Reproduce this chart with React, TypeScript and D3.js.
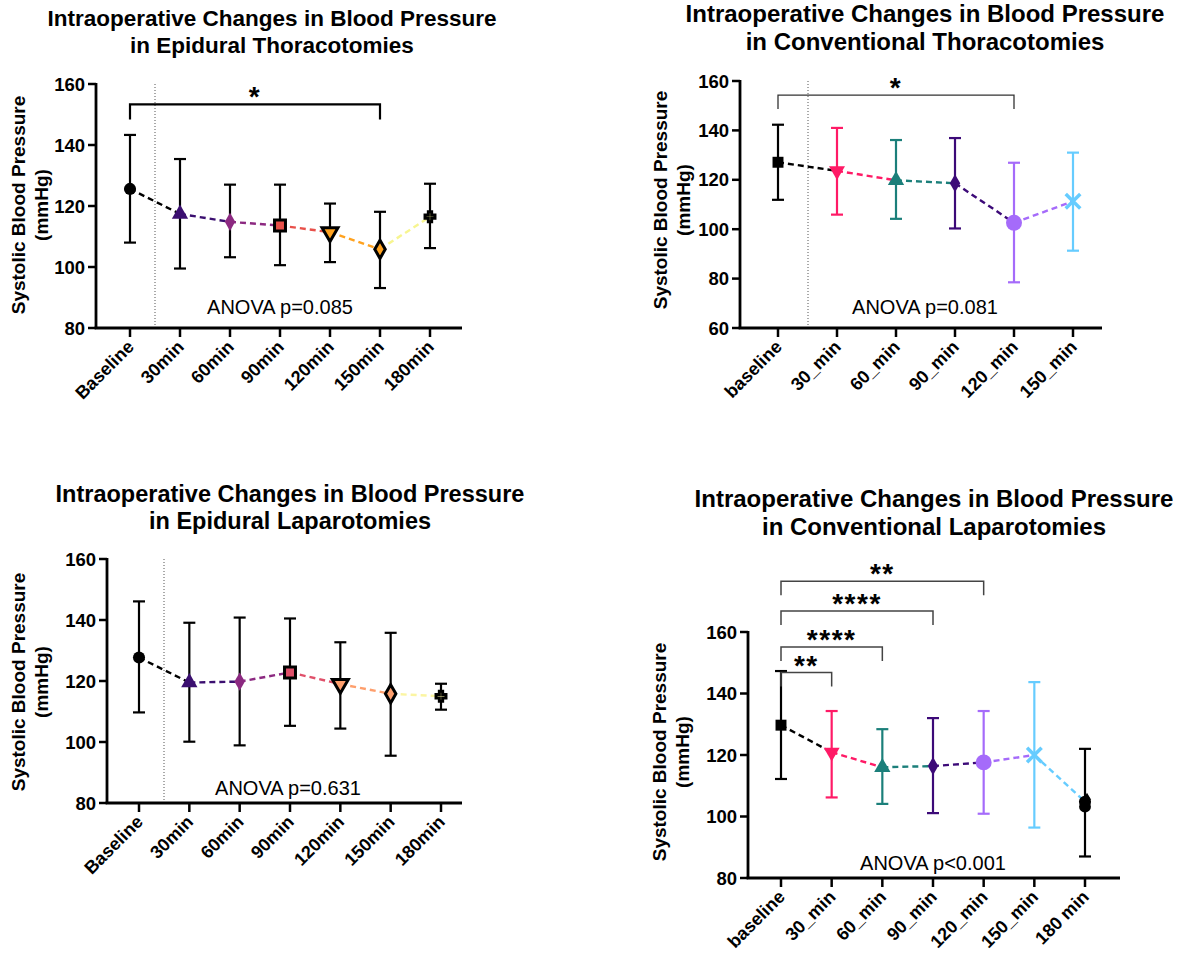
import React from "react";
import * as d3 from "d3";

// ---------- DATA ----------
const p1Categories = ["Baseline", "30min", "60min", "90min", "120min", "150min", "180min"];
const p1Mean = [125.6, 117.4, 114.8, 113.6, 111.4, 105.8, 116.5];
const p1Upper = [143.3, 135.4, 127.0, 127.0, 120.8, 118.1, 127.3];
const p1Lower = [108.0, 99.5, 103.2, 100.6, 101.6, 93.1, 106.2];

const p2Categories = ["baseline", "30_min", "60_min", "90_min", "120_min", "150_min"];
const p2Mean = [127.1, 123.6, 119.8, 118.6, 102.6, 111.3];
const p2Upper = [142.3, 141.0, 136.1, 136.9, 126.9, 131.0];
const p2Lower = [111.9, 105.9, 104.2, 100.3, 78.5, 91.3];

const p3Categories = ["Baseline", "30min", "60min", "90min", "120min", "150min", "180min"];
const p3Mean = [127.7, 119.5, 119.8, 122.8, 119.0, 115.8, 115.0];
const p3Upper = [146.1, 139.1, 140.8, 140.5, 132.7, 135.8, 119.1];
const p3Lower = [109.7, 100.1, 98.9, 105.3, 104.4, 95.5, 110.6];

const p4Categories = ["baseline", "30_min", "60_min", "90_min", "120_min", "150_min", "180 min"];
const p4Mean = [129.7, 120.9, 116.0, 116.4, 117.6, 120.0, 104.8];
const p4Upper = [147.3, 134.3, 128.4, 132.0, 134.3, 143.7, 122.0];
const p4Lower = [112.2, 106.2, 104.1, 101.1, 100.9, 96.4, 87.0];
const p4ExtraCircle = 103.2;
const p4ExtraTriangle = 106.2;

const yTicksA = [80, 100, 120, 140, 160];
const yTicksB = [60, 80, 100, 120, 140, 160];

// markers and colours
const p1Markers = ["circle", "triangle", "diamond", "square", "triangleDown", "diamond", "cross"];
const p1Fill = ["#000000", "#3b0f70", "#8c2981", "#e8504a", "#ffa21f", "#ffa21f", "#f7f590"];
const p1Seg = ["#000000", "#3b0f70", "#8c2981", "#e8504a", "#ffa21f", "#f7f590"];
const p1Outline = [false, false, false, true, true, true, true];

const p3Markers = ["circle", "triangle", "diamond", "square", "triangleDown", "diamond", "cross"];
const p3Fill = ["#000000", "#3b0f70", "#8c2981", "#e0506a", "#fe9f6d", "#fe9f6d", "#fbf5a3"];
const p3Seg = ["#000000", "#3b0f70", "#8c2981", "#e0506a", "#fe9f6d", "#fbf5a3"];
const p3Outline = [false, false, false, true, true, true, true];

const p2Markers = ["square", "triangleDown", "triangle", "diamond", "bigcircle", "x"];
const p2Fill = ["#000000", "#ff1a66", "#1b7f7a", "#3c0a78", "#a56bfa", "#66ccff"];
const p2Seg = ["#000000", "#ff1a66", "#1b7f7a", "#3c0a78", "#a56bfa"];

const p4Markers = ["square", "triangleDown", "triangle", "diamond", "bigcircle", "x", "circle"];
const p4Fill = ["#000000", "#ff1a66", "#1b7f7a", "#3c0a78", "#a56bfa", "#66ccff", "#000000"];
const p4Seg = ["#000000", "#ff1a66", "#1b7f7a", "#3c0a78", "#a56bfa", "#66ccff"];

const p1Brackets = [{ a: 0, b: 5, level: 153.3, label: "*" }];
const p2Brackets = [{ a: 0, b: 4, level: 154.3, label: "*" }];
const p4Brackets = [
  { a: 0, b: 1, level: 146.8, label: "**" },
  { a: 0, b: 2, level: 155.1, label: "****" },
  { a: 0, b: 3, level: 166.8, label: "****" },
  { a: 0, b: 4, level: 176.5, label: "**" },
];

const FONT = "'Liberation Sans', Arial, Helvetica, sans-serif";

type Bracket = { a: number; b: number; level: number; label: string };
type Cfg = {
  cats: string[]; mean: number[]; upper: number[]; lower: number[];
  markers: string[]; fill: string[]; seg: string[]; outline: boolean[]; errColor: string[];
  yMin: number; yTicks: number[];
  axisX: number; bottom: number; top: number; xFirst: number; xLast: number; xEnd: number; divX: number | null;
  title: string[]; titleX: number; titleY: number[]; titleSize: number;
  ylabX: number[]; ylabY: number;
  anova: string; anovaX: number; anovaY: number;
  brackets: Bracket[]; bColor: string; bWidth: number; bDrop: number;
};

function symPath(kind: string): string {
  const g = d3.symbol();
  switch (kind) {
    case "circle": return g.type(d3.symbolCircle).size(115)()!;
    case "bigcircle": return g.type(d3.symbolCircle).size(200)()!;
    case "triangle": return g.type(d3.symbolTriangle).size(115)()!;
    case "triangleDown": return g.type(d3.symbolTriangle).size(110)()!;
    case "diamond": return g.type(d3.symbolDiamond).size(95)()!;
    case "square": return g.type(d3.symbolSquare).size(120)()!;
    case "cross": return g.type(d3.symbolCross).size(55)()!;
    case "x": return g.type(d3.symbolX).size(140)()!;
  }
  return g.type(d3.symbolCircle).size(100)()!;
}

function Panel({ c }: { c: Cfg }) {
  const x = d3.scalePoint<string>().domain(c.cats).range([c.xFirst, c.xLast]);
  const y = d3.scaleLinear().domain([c.yMin, 160]).range([c.bottom, c.top]);
  const cap = 6;
  return (
    <g fontFamily={FONT}>
      {c.title.map((t, i) => (
        <text key={i} x={c.titleX} y={c.titleY[i]} textAnchor="middle" fontWeight="bold" fontSize={c.titleSize} fill="#000">{t}</text>
      ))}
      <text transform={`translate(${c.ylabX[0]},${c.ylabY}) rotate(-90)`} textAnchor="middle" fontWeight="bold" fontSize={19}>Systolic Blood Pressure</text>
      <text transform={`translate(${c.ylabX[1]},${c.ylabY}) rotate(-90)`} textAnchor="middle" fontWeight="bold" fontSize={19}>(mmHg)</text>
      {c.divX !== null && (
        <line x1={c.divX} x2={c.divX} y1={c.top} y2={c.bottom} stroke="#555" strokeWidth={1} strokeDasharray="1,2" />
      )}
      <line x1={c.axisX} x2={c.axisX} y1={c.top - 1} y2={c.bottom} stroke="#000" strokeWidth={2.8} />
      <line x1={c.axisX - 1.4} x2={c.xEnd} y1={c.bottom} y2={c.bottom} stroke="#000" strokeWidth={2.8} />
      {c.yTicks.map((t) => (
        <g key={t}>
          <line x1={c.axisX - 8} x2={c.axisX} y1={y(t)} y2={y(t)} stroke="#000" strokeWidth={2.5} />
          <text x={c.axisX - 11} y={y(t)} dy="0.36em" textAnchor="end" fontWeight="bold" fontSize={18.5}>{t}</text>
        </g>
      ))}
      {c.cats.map((k) => (
        <g key={k}>
          <line x1={x(k)} x2={x(k)} y1={c.bottom} y2={c.bottom + 9} stroke="#000" strokeWidth={2.5} />
          <text transform={`translate(${x(k)! + 5},${c.bottom + 20}) rotate(-45)`} textAnchor="end" fontWeight="bold" fontSize={18}>{k}</text>
        </g>
      ))}
      {c.cats.map((k, i) => {
        const xx = x(k)!;
        return (
          <g key={"e" + k} stroke={c.errColor[i]} strokeWidth={2.2}>
            <line x1={xx} x2={xx} y1={y(c.upper[i])} y2={y(c.lower[i])} />
            <line x1={xx - cap} x2={xx + cap} y1={y(c.upper[i])} y2={y(c.upper[i])} />
            <line x1={xx - cap} x2={xx + cap} y1={y(c.lower[i])} y2={y(c.lower[i])} />
          </g>
        );
      })}
      {c.seg.map((col, i) => (
        <line key={"s" + i} x1={x(c.cats[i])} x2={x(c.cats[i + 1])} y1={y(c.mean[i])} y2={y(c.mean[i + 1])}
          stroke={col} strokeWidth={2.4} strokeDasharray="6,4" />
      ))}
      {c.cats.map((k, i) => {
        const kind = c.markers[i];
        const rot = kind === "triangleDown" ? 180 : 0;
        const isX = kind === "x";
        return (
          <path key={"m" + k} d={symPath(kind)} transform={`translate(${x(k)},${y(c.mean[i])}) rotate(${rot})`}
            fill={isX ? "none" : c.fill[i]} stroke={isX ? c.fill[i] : c.outline[i] ? "#000" : "none"}
            strokeWidth={isX ? 3.5 : 3} />
        );
      })}
      {c.brackets.map((b, i) => {
        const xa = x(c.cats[b.a])!, xb = x(c.cats[b.b])!, yy = y(b.level);
        return (
          <g key={"b" + i}>
            <path d={`M${xa},${yy + c.bDrop}V${yy}H${xb}V${yy + c.bDrop}`} fill="none" stroke={c.bColor} strokeWidth={c.bWidth} />
            <text x={(xa + xb) / 2} y={yy + 2} textAnchor="middle" fontWeight="bold" fontSize={28} letterSpacing={1.5}>{b.label}</text>
          </g>
        );
      })}
      <text x={c.anovaX} y={c.anovaY} dy="0.35em" textAnchor="middle" fontSize={20}>{c.anova}</text>
    </g>
  );
}

const black = (n: number) => Array(n).fill("#000000");

const panels: Cfg[] = [
  {
    cats: p1Categories, mean: p1Mean, upper: p1Upper, lower: p1Lower,
    markers: p1Markers, fill: p1Fill, seg: p1Seg, outline: p1Outline, errColor: black(7),
    yMin: 80, yTicks: yTicksA, axisX: 96, bottom: 328, top: 84, xFirst: 130, xLast: 430, xEnd: 462, divX: 155,
    title: ["Intraoperative Changes in Blood Pressure", "in Epidural Thoracotomies"], titleX: 272, titleY: [26, 53], titleSize: 22.5,
    ylabX: [25, 48], ylabY: 205, anova: "ANOVA p=0.085", anovaX: 280, anovaY: 307,
    brackets: p1Brackets, bColor: "#000", bWidth: 2.2, bDrop: 15,
  },
  {
    cats: p2Categories, mean: p2Mean, upper: p2Upper, lower: p2Lower,
    markers: p2Markers, fill: p2Fill, seg: p2Seg, outline: Array(6).fill(false), errColor: p2Fill,
    yMin: 60, yTicks: yTicksB, axisX: 740, bottom: 328, top: 81, xFirst: 778, xLast: 1073, xEnd: 1102, divX: 808,
    title: ["Intraoperative Changes in Blood Pressure", "in Conventional Thoracotomies"], titleX: 925, titleY: [22, 50], titleSize: 24,
    ylabX: [667, 690], ylabY: 200, anova: "ANOVA p=0.081", anovaX: 925, anovaY: 307,
    brackets: p2Brackets, bColor: "#333", bWidth: 1.3, bDrop: 14,
  },
  {
    cats: p3Categories, mean: p3Mean, upper: p3Upper, lower: p3Lower,
    markers: p3Markers, fill: p3Fill, seg: p3Seg, outline: p3Outline, errColor: black(7),
    yMin: 80, yTicks: yTicksA, axisX: 107, bottom: 803, top: 559, xFirst: 139, xLast: 441, xEnd: 462, divX: 164,
    title: ["Intraoperative Changes in Blood Pressure", "in Epidural Laparotomies"], titleX: 290, titleY: [502, 529], titleSize: 23.5,
    ylabX: [25, 48], ylabY: 682, anova: "ANOVA p=0.631", anovaX: 288, anovaY: 788,
    brackets: [], bColor: "#000", bWidth: 2, bDrop: 14,
  },
  {
    cats: p4Categories, mean: p4Mean, upper: p4Upper, lower: p4Lower,
    markers: p4Markers, fill: p4Fill, seg: p4Seg, outline: Array(7).fill(false), errColor: p4Fill,
    yMin: 80, yTicks: yTicksA, axisX: 748, bottom: 878, top: 632, xFirst: 781, xLast: 1085, xEnd: 1120, divX: null,
    title: ["Intraoperative Changes in Blood Pressure", "in Conventional Laparotomies"], titleX: 934, titleY: [507, 535], titleSize: 24,
    ylabX: [666, 689], ylabY: 752, anova: "ANOVA p<0.001", anovaX: 933, anovaY: 863,
    brackets: p4Brackets, bColor: "#444", bWidth: 1.5, bDrop: 14,
  },
];

export default function App() {
  const p4 = panels[3];
  const x4 = d3.scalePoint<string>().domain(p4.cats).range([p4.xFirst, p4.xLast]);
  const y4 = d3.scaleLinear().domain([80, 160]).range([p4.bottom, p4.top]);
  const lastX = x4(p4.cats[6])!;
  return (
    <svg width={1183} height={962} style={{ position: "absolute", left: 0, top: 0, background: "#fff" }}>
      <rect width={1183} height={962} fill="#fff" />
      {panels.map((c, i) => <Panel key={i} c={c} />)}
      <path d={d3.symbol().type(d3.symbolCircle).size(110)()!} transform={`translate(${lastX},${y4(p4ExtraCircle)})`} fill="#000" />
      <path d={d3.symbol().type(d3.symbolTriangle).size(30)()!} transform={`translate(${lastX + 2},${y4(p4ExtraTriangle)})`} fill="#000" />
    </svg>
  );
}
